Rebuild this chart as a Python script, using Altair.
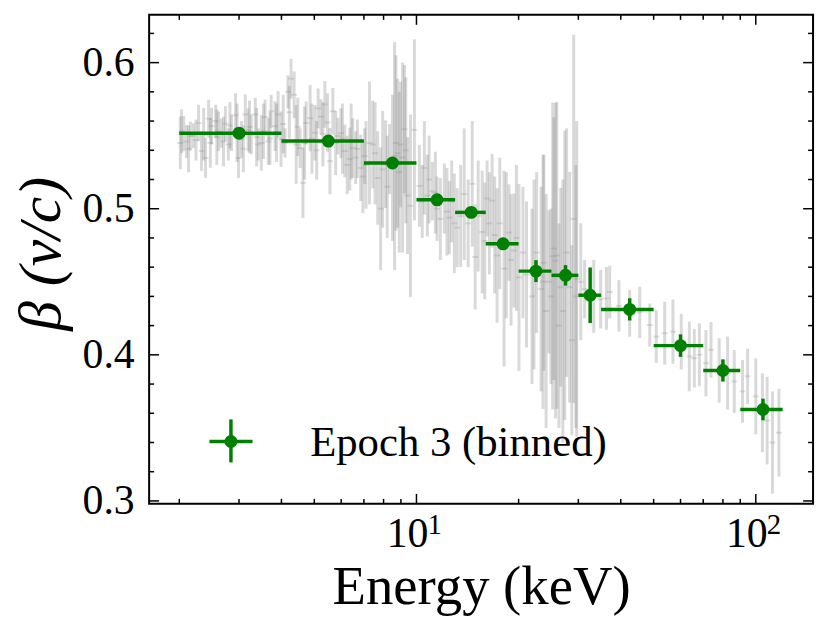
import altair as alt
import pandas as pd

# ---------------- binned (green) ----------------
bin_e = [3, 5.5, 8.5, 11.5, 14.5, 18, 22.5, 27.5, 32.5, 42.5, 60, 80, 105]
bin_lo = [2, 4, 7, 10, 13, 16, 20, 25, 30, 35, 50, 70, 90]
bin_hi = [4, 7, 10, 13, 16, 20, 25, 30, 35, 50, 70, 90, 120]
bin_beta = [0.5517, 0.5463, 0.5313, 0.5061, 0.4975, 0.476, 0.4573, 0.4544,
            0.4408, 0.4311, 0.4063, 0.3893, 0.3626]
bin_err = [0.003, 0.003, 0.003, 0.003, 0.003, 0.004, 0.0075, 0.007,
           0.019, 0.0076, 0.0077, 0.0076, 0.0074]

# ---------------- unbinned (grey) ----------------
grey_e = [
    2.014, 2.03, 2.06, 2.10, 2.13, 2.155, 2.20, 2.24, 2.28, 2.325, 2.36, 2.39, 2.44, 2.47, 2.49,
    2.56, 2.58, 2.61, 2.66, 2.70, 2.735, 2.79, 2.82, 2.85, 2.93, 2.96, 2.99, 3.05, 3.09, 3.13,
    3.19, 3.22, 3.26, 3.35, 3.38, 3.42, 3.49, 3.54, 3.58, 3.66, 3.70, 3.73, 3.83, 3.87, 3.91,
    3.99, 4.05, 4.10, 4.18, 4.22, 4.27, 4.36, 4.42, 4.47, 4.54, 4.63, 4.68, 4.73, 4.86, 4.92,
    5.02, 5.08, 5.13, 5.23, 5.30, 5.37, 5.47, 5.56, 5.67, 5.78, 5.87, 5.99, 6.05, 6.15, 6.25,
    6.36, 6.42, 6.49, 6.62, 6.70, 6.85, 6.95, 7.04,
    7.10, 7.27, 7.43, 7.55, 7.69, 7.84, 7.95, 8.11, 8.20, 8.33, 8.50, 8.62, 8.70, 8.80, 8.90,
    8.98, 9.10, 9.22, 9.30, 9.41, 9.60, 9.86,
    10.2, 10.4, 10.55, 10.77, 10.9, 11.14, 11.37, 11.5, 11.76, 12.08, 12.3, 12.50, 12.7, 12.93,
    13.19, 13.5, 13.83, 14.2, 14.60, 14.89, 15.2, 15.62, 15.9, 16.15, 16.4, 16.71, 17.0, 17.28,
    17.6, 18.12, 18.4, 18.74, 19.0, 19.39, 19.7, 20.05,
    20.6, 21.1, 21.9, 22.2, 22.6, 23.3, 23.6, 23.74, 24.1, 24.55, 24.9, 25.2, 25.40, 25.7, 25.92,
    26.3, 26.62, 27.0, 27.35, 27.7, 28.28, 28.7, 29.06, 29.5, 29.66,
    30.5, 31.3, 33.3, 34.9,
    36.3, 37.1, 39.5, 42.5, 45.5, 48.7, 50.9, 53.9, 57.0, 60.3, 63.7, 65.9, 68.2, 71.3, 73.8,
    78.0, 82.6, 86.4, 91.4, 94.6, 100.0, 104.6, 108.0, 112.0, 117.0,
]
grey_b = [
    0.545, 0.553, 0.5514, 0.546, 0.541, 0.5497, 0.550, 0.547, 0.5587, 0.5395, 0.551, 0.5347, 0.5616, 0.545, 0.5565,
    0.560, 0.549, 0.553, 0.5517, 0.546, 0.5582, 0.544, 0.557, 0.552, 0.564, 0.552, 0.5347, 0.5476, 0.541, 0.5646,
    0.554, 0.556, 0.551, 0.5646, 0.549, 0.544, 0.545, 0.553, 0.5627, 0.546, 0.548, 0.5667, 0.5565, 0.552, 0.5646,
    0.5476, 0.558, 0.545, 0.580, 0.566, 0.589, 0.578, 0.544, 0.556, 0.5415, 0.5177, 0.545, 0.5587, 0.562, 0.548,
    0.552, 0.540, 0.5687, 0.563, 0.551, 0.5714, 0.559, 0.5326, 0.5667, 0.545, 0.5497, 0.5517, 0.548, 0.5395, 0.530,
    0.534, 0.546, 0.5415, 0.535, 0.541, 0.528, 0.522, 0.536,
    0.530, 0.545, 0.544, 0.538, 0.521, 0.500, 0.527, 0.5305, 0.515, 0.534, 0.528, 0.536, 0.545, 0.538, 0.525,
    0.544, 0.535, 0.5544, 0.540, 0.509, 0.502, 0.554,
    0.5156, 0.505, 0.528, 0.509, 0.520, 0.512, 0.511, 0.500, 0.493, 0.507, 0.498, 0.4939, 0.505, 0.490,
    0.487, 0.495, 0.510, 0.490, 0.517, 0.467, 0.495, 0.484, 0.478, 0.507, 0.490, 0.5055, 0.482, 0.468,
    0.490, 0.459, 0.475, 0.4837, 0.465, 0.4714, 0.480, 0.453,
    0.470, 0.455, 0.440, 0.455, 0.470, 0.445, 0.450, 0.463, 0.430, 0.450, 0.440, 0.4675, 0.4727, 0.4645, 0.468,
    0.420, 0.4463, 0.430, 0.4544, 0.470, 0.4463, 0.410, 0.493, 0.440, 0.452,
    0.450, 0.445, 0.440, 0.438,
    0.4386, 0.443, 0.4335, 0.4284, 0.429, 0.4204, 0.4125, 0.4148, 0.4159, 0.409, 0.3989, 0.3977, 0.400, 0.3943, 0.4034,
    0.3893, 0.3875, 0.3818, 0.375, 0.3853, 0.3716, 0.3603, 0.355, 0.340, 0.3467,
]
grey_err = [
    0.018, 0.015, 0.012, 0.0113, 0.016, 0.010, 0.0085, 0.014, 0.0125, 0.0136, 0.018, 0.0136, 0.013, 0.017, 0.0125,
    0.0113, 0.019, 0.0136, 0.010, 0.017, 0.012, 0.011, 0.016, 0.0125, 0.015, 0.020, 0.0136, 0.0125, 0.016, 0.0136,
    0.0147, 0.018, 0.0136, 0.0113, 0.020, 0.011, 0.019, 0.019, 0.012, 0.016, 0.018, 0.0113, 0.017, 0.020, 0.016,
    0.019, 0.020, 0.010, 0.0113, 0.018, 0.0136, 0.016, 0.027, 0.020, 0.0136, 0.024, 0.025, 0.0147, 0.0227, 0.024,
    0.019, 0.020, 0.0136, 0.012, 0.022, 0.016, 0.020, 0.0227, 0.016, 0.022, 0.0125, 0.017, 0.024, 0.018, 0.020,
    0.0215, 0.026, 0.0204, 0.018, 0.020, 0.0227, 0.025, 0.019,
    0.030, 0.042, 0.030, 0.035, 0.032, 0.042, 0.040, 0.030, 0.035, 0.024, 0.050, 0.078, 0.060, 0.051, 0.055,
    0.043, 0.065, 0.044, 0.050, 0.040, 0.0625, 0.062,
    0.028, 0.025, 0.032, 0.028, 0.030, 0.020, 0.028, 0.022, 0.028, 0.024, 0.030, 0.025, 0.028, 0.034,
    0.027, 0.035, 0.045, 0.030, 0.043, 0.036, 0.038, 0.042, 0.040, 0.026, 0.035, 0.032, 0.040, 0.046,
    0.045, 0.067, 0.050, 0.033, 0.045, 0.039, 0.050, 0.064,
    0.045, 0.050, 0.060, 0.065, 0.055, 0.070, 0.087, 0.074, 0.080, 0.049, 0.060, 0.105, 0.090, 0.108, 0.105,
    0.070, 0.068, 0.090, 0.099, 0.085, 0.079, 0.065, 0.126, 0.090, 0.108,
    0.040, 0.020, 0.025, 0.020,
    0.0215, 0.018, 0.0176, 0.016, 0.0176, 0.0147, 0.018, 0.0215, 0.022, 0.019, 0.0238, 0.020, 0.0215, 0.0227, 0.019,
    0.022, 0.025, 0.0215, 0.0215, 0.019, 0.026, 0.027, 0.030, 0.035, 0.030,
]

# ---------------- axis ticks ----------------
x_major = [10, 100]
x_minor = [2, 3, 4, 5, 6, 7, 8, 9, 20, 30, 40, 50, 60, 70, 80, 90]
y_major = [0.3, 0.4, 0.5, 0.6]
y_minor = [0.32, 0.34, 0.36, 0.38, 0.42, 0.44, 0.46, 0.48, 0.52, 0.54, 0.56, 0.58, 0.62]
x_label_vals = [10, 100]
x_label_base = ["10", "10"]
x_label_exp = ["1", "2"]

legend_label = "Epoch 3 (binned)"

FONT = "Liberation Serif"
GREEN = "#008000"
W, H = 668, 492

gdf = pd.DataFrame({"e": grey_e, "b": grey_b, "err": grey_err})
gdf["lo"] = gdf["b"] - gdf["err"]
gdf["hi"] = gdf["b"] + gdf["err"]

bdf = pd.DataFrame({"e": bin_e, "elo": bin_lo, "ehi": bin_hi, "b": bin_beta, "err": bin_err})
bdf["blo"] = bdf["b"] - bdf["err"]
bdf["bhi"] = bdf["b"] + bdf["err"]

xs = alt.Scale(type="log", domain=[1.63, 147.5], nice=False)
ys = alt.Scale(domain=[0.298, 0.6327], nice=False, zero=False)

xax = alt.Axis(labels=False, ticks=False, domain=False, grid=False,
               title="Energy (keV)", titleFont=FONT, titleFontSize=55,
               titleFontWeight="normal", titleColor="black",
               titleY=100, titleBaseline="alphabetic")
yax = alt.Axis(values=y_major, format=".1f", ticks=False, domain=False, grid=False,
               labelFont=FONT, labelFontSize=42, labelColor="black", labelPadding=15,
               title="β (v/c)", titleFont=FONT, titleFontSize=60, titleFontStyle="italic",
               titleFontWeight="normal", titleColor="black",
               titleX=-108, titleY=240, titleAngle=270, titleBaseline="middle", titleAlign="center")


def X(field):
    return alt.X(field, type="quantitative", scale=xs, axis=xax)


def Y(field):
    return alt.Y(field, type="quantitative", scale=ys, axis=yax)


grey_bars = alt.Chart(gdf).mark_rule(color="#808080", opacity=0.3, strokeWidth=3).encode(
    x=X("e"), y=Y("lo"), y2="hi")
grey_dash = alt.Chart(gdf).mark_tick(orient="horizontal", color="#808080", opacity=0.22,
                                     size=6, thickness=2).encode(x=X("e"), y=Y("b"))

g_xbar = alt.Chart(bdf).mark_rule(color=GREEN, strokeWidth=3.5).encode(
    x=X("elo"), x2="ehi", y=Y("b"))
g_ybar = alt.Chart(bdf).mark_rule(color=GREEN, strokeWidth=3.5).encode(
    x=X("e"), y=Y("blo"), y2="bhi")
g_pts = alt.Chart(bdf).mark_circle(color=GREEN, size=170, opacity=1).encode(
    x=X("e"), y=Y("b"))

xmaj_df = pd.DataFrame({"v": x_major})
xmin_df = pd.DataFrame({"v": x_minor})
ymaj_df = pd.DataFrame({"v": y_major})
ymin_df = pd.DataFrame({"v": y_minor})

tick_layers = []
for df, ln in ((xmaj_df, 10), (xmin_df, 5)):
    tick_layers.append(alt.Chart(df).mark_rule(color="black", strokeWidth=1.5).encode(
        x=X("v"), y=alt.value(H), y2=alt.value(H - ln)))
    tick_layers.append(alt.Chart(df).mark_rule(color="black", strokeWidth=1.5).encode(
        x=X("v"), y=alt.value(0), y2=alt.value(ln)))
for df, ln in ((ymaj_df, 10), (ymin_df, 5)):
    tick_layers.append(alt.Chart(df).mark_rule(color="black", strokeWidth=1.5).encode(
        y=Y("v"), x=alt.value(0), x2=alt.value(ln)))
    tick_layers.append(alt.Chart(df).mark_rule(color="black", strokeWidth=1.5).encode(
        y=Y("v"), x=alt.value(W), x2=alt.value(W - ln)))

lab_df = pd.DataFrame({"v": x_label_vals, "t": x_label_base, "s": x_label_exp})
xlab_base = alt.Chart(lab_df).mark_text(font=FONT, fontSize=42, color="black", align="center",
                                        baseline="alphabetic", dx=-9).encode(
    x=X("v"), y=alt.value(535), text="t:N")
xlab_exp = alt.Chart(lab_df).mark_text(font=FONT, fontSize=29, color="black", align="left",
                                       baseline="alphabetic", dx=11).encode(
    x=X("v"), y=alt.value(522), text="s:N")

one = pd.DataFrame({"a": [0]})
leg_h = alt.Chart(one).mark_rule(color=GREEN, strokeWidth=3.5).encode(
    x=alt.value(60.7), x2=alt.value(104), y=alt.value(429.3))
leg_v = alt.Chart(one).mark_rule(color=GREEN, strokeWidth=3.5).encode(
    x=alt.value(82.3), y=alt.value(407), y2=alt.value(450.3))
leg_p = alt.Chart(one).mark_circle(color=GREEN, size=170, opacity=1).encode(
    x=alt.value(82.3), y=alt.value(429.3))
leg_t = alt.Chart(one).mark_text(font=FONT, fontSize=43, color="black", align="left",
                                 baseline="alphabetic").encode(
    x=alt.value(162), y=alt.value(444), text=alt.value(legend_label))

chart = alt.layer(
    grey_bars, grey_dash, g_xbar, g_ybar, g_pts,
    *tick_layers, xlab_base, xlab_exp,
    leg_h, leg_v, leg_p, leg_t,
).properties(
    width=W, height=H,
    autosize=alt.AutoSizeParams(type="none"),
    padding={"left": 142, "top": 5, "right": 10, "bottom": 122},
    background="white",
).configure_view(stroke="black", strokeWidth=2)

chart.save("out.html", embed_options={"renderer": "svg", "actions": False})
